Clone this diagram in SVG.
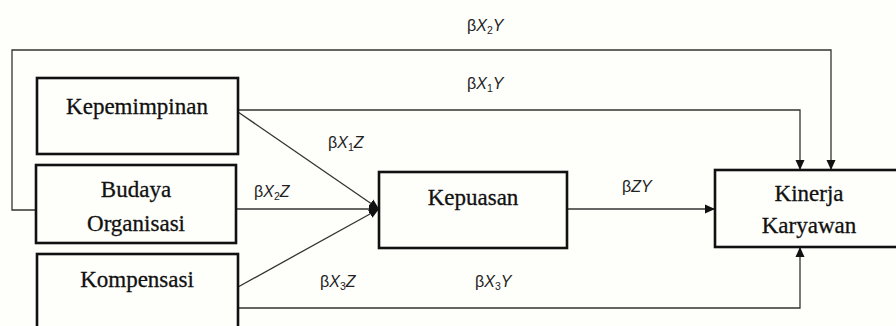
<svg xmlns="http://www.w3.org/2000/svg" width="896" height="326" viewBox="0 0 896 326">
<style>
.box{fill:none;stroke:#111;stroke-width:2.6}
.nt{font-family:"Liberation Serif",serif;font-size:23px;fill:#111;stroke:#111;stroke-width:0.3;text-anchor:middle}
.ln{fill:none;stroke:#333;stroke-width:1.3}
.lb{font-family:"Liberation Sans",sans-serif;font-size:16px;fill:#222}
.it{font-style:italic}
.sb{font-size:10.5px}
</style>
<defs>
<marker id="ah" viewBox="0 0 10 10" refX="10" refY="5" markerWidth="10" markerHeight="10" markerUnits="userSpaceOnUse" orient="auto">
<path d="M0,0.5 L10,5 L0,9.5 Z" fill="#111"/>
</marker>
</defs>
<rect width="896" height="326" fill="#fefefb"/>
<g id="connectors">
<polyline class="ln" points="36,210 12,210 12,50 831,50 831,170" marker-end="url(#ah)"/>
<polyline class="ln" points="238,110 800,110 800,170" marker-end="url(#ah)"/>
<polyline class="ln" points="238,308 800,308 800,247" marker-end="url(#ah)"/>
<line class="ln" x1="567" y1="209" x2="715" y2="209" marker-end="url(#ah)"/>
<line class="ln" x1="238" y1="112" x2="379" y2="209" marker-end="url(#ah)"/>
<line class="ln" x1="236" y1="209" x2="379" y2="209" marker-end="url(#ah)"/>
<line class="ln" x1="238" y1="287" x2="379" y2="209" marker-end="url(#ah)"/>
</g>
<g id="labels">
<text class="lb" x="467" y="31">β<tspan class="it">X</tspan><tspan class="sb" dy="3">2</tspan><tspan class="it" dy="-3">Y</tspan></text>
<text class="lb" x="467" y="89">β<tspan class="it">X</tspan><tspan class="sb" dy="3">1</tspan><tspan class="it" dy="-3">Y</tspan></text>
<text class="lb" x="328" y="148">β<tspan class="it">X</tspan><tspan class="sb" dy="3">1</tspan><tspan class="it" dy="-3">Z</tspan></text>
<text class="lb" x="254" y="197">β<tspan class="it">X</tspan><tspan class="sb" dy="3">2</tspan><tspan class="it" dy="-3">Z</tspan></text>
<text class="lb" x="320" y="287">β<tspan class="it">X</tspan><tspan class="sb" dy="3">3</tspan><tspan class="it" dy="-3">Z</tspan></text>
<text class="lb" x="475" y="287">β<tspan class="it">X</tspan><tspan class="sb" dy="3">3</tspan><tspan class="it" dy="-3">Y</tspan></text>
<text class="lb" x="622" y="192">β<tspan class="it">ZY</tspan></text>
</g>
<g id="kepemimpinan">
<rect class="box" x="37" y="78" width="201" height="76"/>
<text class="nt" x="137" y="114">Kepemimpinan</text>
</g>
<g id="budaya">
<rect class="box" x="36" y="165" width="200" height="78"/>
<text class="nt" x="136" y="197">Budaya</text>
<text class="nt" x="136" y="231">Organisasi</text>
</g>
<g id="kompensasi">
<rect class="box" x="37" y="254" width="201" height="80"/>
<text class="nt" x="137" y="287">Kompensasi</text>
</g>
<g id="kepuasan">
<rect class="box" x="379" y="172" width="188" height="76"/>
<text class="nt" x="473" y="205">Kepuasan</text>
</g>
<g id="kinerja">
<rect class="box" x="715" y="170" width="190" height="77"/>
<text class="nt" x="809" y="201">Kinerja</text>
<text class="nt" x="809" y="233">Karyawan</text>
</g>
</svg>
